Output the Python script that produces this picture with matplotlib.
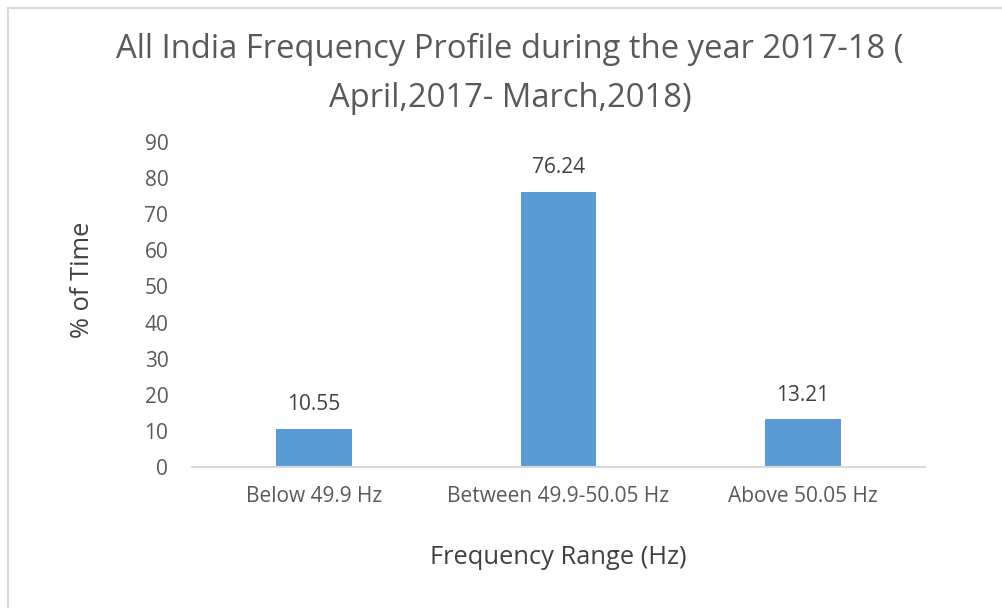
import matplotlib
matplotlib.use("Agg")
import matplotlib.pyplot as plt
from matplotlib.patches import Rectangle

# data
categories = ["Below 49.9 Hz", "Between 49.9-50.05 Hz", "Above 50.05 Hz"]
pct_time = [10.55, 76.24, 13.21]
yticks = [0, 10, 20, 30, 40, 50, 60, 70, 80, 90]

plt.rcParams['font.family'] = ['Open Sans', 'DejaVu Sans']
txt = '#595959'
dark = '#404040'

fig = plt.figure(figsize=(10.02, 6.08), dpi=100)
# outer chart border (only top/left visible in the crop)
fig.patches.append(Rectangle((8 / 1002, -0.1), 1.2, 1 - 8 / 608 + 0.1,
                             transform=fig.transFigure, fill=False,
                             edgecolor='#d9d9d9', linewidth=1.5))

ax = fig.add_axes([0.1916, 0.2319, 0.7316, 0.5345])
x = range(len(categories))
bars = ax.bar(x, pct_time, width=0.31, color='#5B9BD5')
for b, v in zip(bars, pct_time):
    ax.text(b.get_x() + b.get_width() / 2, v + 3.8, f"{v:.2f}",
            ha='center', va='bottom', fontsize=15, color=dark)

ax.set_xlim(-0.5, 2.5)
ax.set_ylim(0, 90)
ax.set_yticks(yticks)
ax.set_xticks(list(x))
ax.set_xticklabels(categories)
ax.tick_params(axis='both', length=0, labelsize=15, colors=txt)
ax.tick_params(axis='x', pad=14)
ax.tick_params(axis='y', pad=17)
for s in ['top', 'right', 'left']:
    ax.spines[s].set_visible(False)
ax.spines['bottom'].set_color('#d9d9d9')
ax.spines['bottom'].set_linewidth(1.5)

ax.set_xlabel("Frequency Range (Hz)", fontsize=18.4, color=dark, va='center')
ax.xaxis.set_label_coords(0.5, -0.278)
ax.set_ylabel("% of Time", fontsize=18.4, color=dark, va='center', ha='center')
ax.yaxis.set_label_coords(-0.150, 0.577)

fig.text(0.509, 0.918, "All India Frequency Profile during the year 2017-18 (",
         ha='center', va='center', fontsize=23.6, color=txt)
fig.text(0.509, 0.838, "April,2017- March,2018)",
         ha='center', va='center', fontsize=23.6, color=txt)

fig.savefig("out.png", dpi=100, facecolor='white')
